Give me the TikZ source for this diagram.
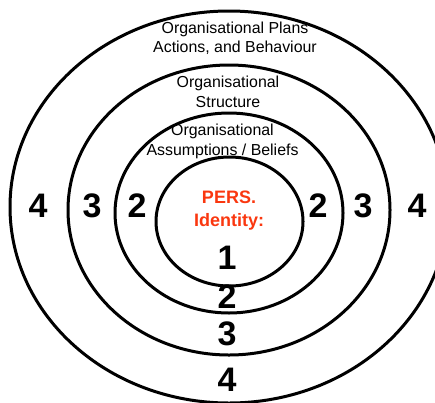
\documentclass[tikz,border=0pt]{standalone}
\usepackage{fontspec}
\setmainfont{Liberation Sans}
\begin{document}
\begin{tikzpicture}[x=1pt,y=-1pt,
  ring/.style={draw=black,line width=3pt},
  lbl/.style={font=\fontsize{15.9}{19.5}\selectfont,align=center,inner sep=0pt},
  num/.style={font=\fontsize{34}{34}\selectfont\bfseries,inner sep=0pt},
  pers/.style={font=\fontsize{18}{23}\selectfont\bfseries,text=persred,align=center,inner sep=0pt}]
\definecolor{persred}{RGB}{250,55,15}
\useasboundingbox (0,0) rectangle (435,402);
\clip (0,0) rectangle (435,402);
\draw[ring] (229,207) ellipse [x radius=219, y radius=196];
\draw[ring] (229,210) ellipse [x radius=161, y radius=145];
\draw[ring] (229,213) ellipse [x radius=114, y radius=100];
\draw[ring] (229.5,221.5) ellipse [x radius=73.5, y radius=64.5];
\node[lbl] (plans) at (235,38.5) {Organisational Plans\\Actions, and Behaviour};
\node[lbl] (struct) at (228,92) {Organisational\\Structure};
\node[lbl] (assum) at (222.5,141.5) {Organisational\\Assumptions / Beliefs};
\node[pers] (pers) at (229,210.5) {PERS.\\Identity:};
\node[num] (n1) at (227,258) {1};
\node[num] (n2b) at (227,297) {2};
\node[num] (n3b) at (227,334) {3};
\node[num] (n4b) at (227,380) {4};
\node[num] (n4l) at (38,206) {4};
\node[num] (n3l) at (92,206) {3};
\node[num] (n2l) at (137,206) {2};
\node[num] (n2r) at (318,206) {2};
\node[num] (n3r) at (363,206) {3};
\node[num] (n4r) at (417,206) {4};
\end{tikzpicture}
\end{document}
